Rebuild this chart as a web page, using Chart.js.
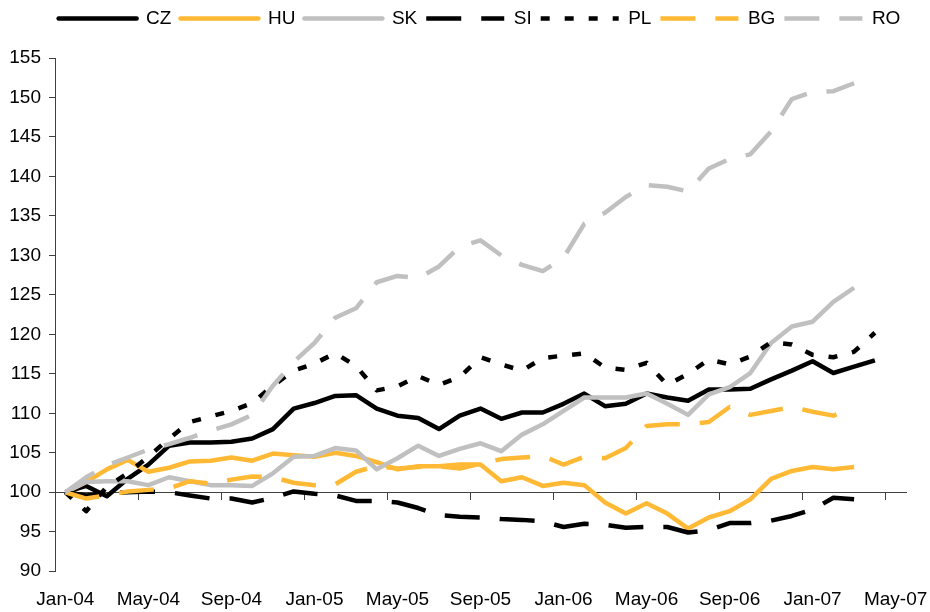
<!DOCTYPE html>
<html>
<head>
<meta charset="utf-8">
<script src="https://cdn.jsdelivr.net/npm/chart.js@4.4.1/dist/chart.umd.min.js"></script>
<style>
  html, body { margin: 0; padding: 0; background: #ffffff; }
  canvas { display: block; }
</style>
</head>
<body>
<canvas id="c" width="930" height="612"></canvas>
<script>
const months = [
  'Jan-04','Feb-04','Mar-04','Apr-04','May-04','Jun-04','Jul-04','Aug-04','Sep-04','Oct-04','Nov-04','Dec-04',
  'Jan-05','Feb-05','Mar-05','Apr-05','May-05','Jun-05','Jul-05','Aug-05','Sep-05','Oct-05','Nov-05','Dec-05',
  'Jan-06','Feb-06','Mar-06','Apr-06','May-06','Jun-06','Jul-06','Aug-06','Sep-06','Oct-06','Nov-06','Dec-06',
  'Jan-07','Feb-07','Mar-07','Apr-07','May-07'
];
const shownTickLabels = ['Jan-04','May-04','Sep-04','Jan-05','May-05','Sep-05','Jan-06','May-06','Sep-06','Jan-07','May-07'];
const yMin = 90;
const yMax = 155;
const yStep = 5;

const seriesNames = ['CZ', 'HU', 'SK', 'SI', 'PL', 'BG', 'RO'];

const CZ = [100.0, 100.8, 99.5, 101.7, 103.5, 105.9, 106.3, 106.3, 106.4, 106.8, 108.0, 110.6,
            111.3, 112.2, 112.3, 110.6, 109.7, 109.4, 108.0, 109.7, 110.6, 109.3, 110.1, 110.1,
            111.2, 112.5, 110.9, 111.2, 112.5, 112.0, 111.6, 113.0, 113.0, 113.1, 114.3, 115.4,
            116.6, 115.1, 115.9, 116.7];
const HU = [100.0, 101.3, 102.9, 104.1, 102.6, 103.1, 103.9, 104.0, 104.4, 104.0, 104.9, 104.7,
            104.5, 105.0, 104.6, 103.8, 102.9, 103.3, 103.3, 103.5, 103.5, 101.4, 101.9, 100.8,
            101.2, 100.9, 98.7, 97.3, 98.6, 97.3, 95.4, 96.8, 97.6, 99.1, 101.7, 102.7,
            103.2, 102.9, 103.2];
const SK = [100.0, 101.3, 101.4, 101.4, 100.9, 101.9, 101.4, 100.9, 100.9, 100.8, 102.4, 104.5,
            104.6, 105.6, 105.3, 102.9, 104.3, 105.9, 104.6, 105.5, 106.2, 105.2, 107.3, 108.6,
            110.3, 112.0, 112.0, 112.0, 112.5, 111.2, 109.8, 112.4, 113.3, 115.1, 118.9, 121.0,
            121.6, 124.1, 125.9];
const SI = [100.0, 99.6, 99.8, 100.0, 100.1, 100.0, 99.6, 99.2, 99.2, 98.7, 99.3, 100.1,
            99.8, 99.6, 98.9, 98.9, 98.7, 98.0, 97.1, 96.9, 96.8, 96.6, 96.5, 96.3,
            95.6, 96.0, 95.9, 95.5, 95.6, 95.6, 94.9, 95.2, 96.1, 96.1, 96.4, 97.0,
            97.8, 99.3, 99.1];
const PL = [100.0, 97.6, 100.7, 102.4, 104.5, 106.8, 108.9, 109.6, 110.3, 111.3, 113.5, 115.4,
            116.3, 117.6, 116.0, 112.9, 113.4, 114.7, 113.6, 114.6, 117.1, 116.2, 115.4, 117.0,
            117.3, 117.6, 115.8, 115.5, 116.4, 113.6, 115.0, 116.8, 116.2, 117.2, 119.0, 118.7,
            117.4, 117.1, 117.8, 120.2];
const BG = [100.0, 99.2, 99.6, 100.1, 100.3, 100.5, 101.4, 101.1, 101.6, 102.0, 101.9, 101.2,
            100.9, 101.0, 102.6, 103.3, 103.0, 103.2, 103.3, 103.0, 103.6, 104.2, 104.4, 104.6,
            103.5, 104.5, 104.3, 105.6, 108.4, 108.6, 108.6, 108.9, 110.8, 109.8, 110.3, 110.8,
            110.2, 109.7, 110.8];
const RO = [100.0, 101.9, 103.4, 104.4, 105.4, 106.1, 106.9, 107.8, 108.6, 109.8, 113.5, 116.5,
            118.9, 122.1, 123.3, 126.6, 127.4, 127.1, 128.6, 131.1, 131.9, 130.0, 128.8, 128.0,
            129.7, 134.0, 135.4, 137.4, 138.9, 138.7, 138.1, 141.0, 142.2, 142.8, 145.7, 149.8,
            150.7, 150.8, 151.8];

const seriesValues = [CZ, HU, SK, SI, PL, BG, RO];

const BLACK = '#000000';
const ORANGE = '#FFB935';
const GREY = '#C0C0C0';
const styles = [
  { color: BLACK,  dash: [] },
  { color: ORANGE, dash: [] },
  { color: GREY,   dash: [] },
  { color: BLACK,  dash: [35, 20] },
  { color: BLACK,  dash: [9, 15] },
  { color: ORANGE, dash: [35, 20] },
  { color: GREY,   dash: [35, 20] }
];

const FONT = { family: "'Liberation Sans', Arial, sans-serif", size: 19 };
const AXIS_COLOR = '#404040';
const LINE_W = 4.5;

const datasets = seriesNames.map((name, i) => ({
  label: name,
  data: seriesValues[i],
  xAxisID: 'x',
  yAxisID: 'y',
  borderColor: styles[i].color,
  backgroundColor: styles[i].color,
  borderDash: styles[i].dash,
  borderWidth: LINE_W,
  borderCapStyle: 'butt',
  borderJoinStyle: 'round',
  pointRadius: 0,
  pointHoverRadius: 0,
  tension: 0,
  fill: false,
  order: seriesNames.length - i
}));

const legendSpacer = {
  id: 'legendSpacer',
  beforeInit(chart) {
    const origFit = chart.legend.fit;
    chart.legend.fit = function () {
      origFit.call(this);
      this.height += 20;
    };
  },
  afterLayout(chart) {
    if (chart.legend) {
      chart.legend.left += 22;
      chart.legend.right += 22;
    }
  }
};

new Chart(document.getElementById('c'), {
  type: 'line',
  data: { labels: months, datasets },
  plugins: [legendSpacer],
  options: {
    responsive: false,
    devicePixelRatio: 1,
    animation: false,
    events: [],
    layout: { padding: { top: 0, left: 9, right: 24, bottom: 1 } },
    plugins: {
      tooltip: { enabled: false },
      legend: {
        display: true,
        position: 'top',
        labels: {
          usePointStyle: true,
          pointStyle: 'line',
          pointStyleWidth: 78,
          padding: 9,
          color: '#000000',
          font: FONT,
          generateLabels: (chart) => {
            const items = Chart.defaults.plugins.legend.labels.generateLabels(chart);
            return items.map((item) => {
              const ds = chart.data.datasets[item.datasetIndex];
              item.lineDash = ds.borderDash;
              item.lineWidth = LINE_W;
              item.strokeStyle = ds.borderColor;
              item.fillStyle = ds.borderColor;
              item.lineCap = ds.borderDash.length ? 'butt' : 'round';
              item.pointStyle = 'line';
              return item;
            });
          },
          sort: (a, b) => a.datasetIndex - b.datasetIndex
        }
      }
    },
    scales: {
      x: {
        type: 'category',
        axis: 'x',
        offset: true,
        position: { y: 100 },
        afterFit: (scale) => { scale.height = 0; },
        grid: {
          display: true,
          offset: true,
          drawOnChartArea: false,
          drawTicks: true,
          tickLength: 7,
          lineWidth: 1,
          tickColor: (ctx) => (ctx.index % 4 === 0 ? AXIS_COLOR : 'rgba(0,0,0,0)')
        },
        border: { display: true, color: AXIS_COLOR, width: 1 },
        ticks: { autoSkip: false, maxRotation: 0, padding: 0, callback: () => '' }
      },
      x2: {
        type: 'category',
        axis: 'x',
        labels: months,
        offset: true,
        position: 'bottom',
        grid: {
          display: true,
          drawOnChartArea: false,
          drawTicks: true,
          tickLength: 17,
          tickColor: 'rgba(0,0,0,0)'
        },
        border: { display: false },
        ticks: {
          autoSkip: false,
          maxRotation: 0,
          minRotation: 0,
          padding: 0,
          color: '#000000',
          font: FONT,
          callback: (value, index) => (shownTickLabels.includes(months[index]) ? months[index] : '')
        }
      },
      y: {
        type: 'linear',
        position: 'left',
        min: yMin,
        max: yMax,
        afterFit: (scale) => { scale.width = 46; },
        grid: {
          display: true,
          drawOnChartArea: false,
          drawTicks: true,
          tickLength: 6,
          color: AXIS_COLOR,
          lineWidth: 1
        },
        border: { display: true, color: AXIS_COLOR, width: 1 },
        ticks: { stepSize: yStep, autoSkip: false, padding: 8, color: '#000000', font: FONT }
      }
    }
  }
});
</script>
</body>
</html>
